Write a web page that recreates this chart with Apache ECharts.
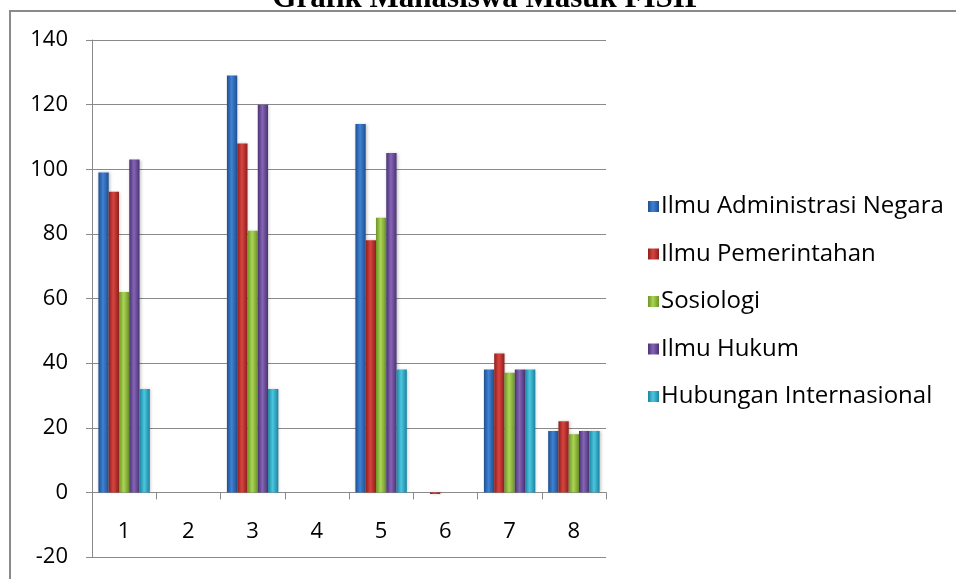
<!DOCTYPE html>
<html>
<head>
<meta charset="utf-8">
<script src="https://cdn.jsdelivr.net/npm/echarts@6/dist/echarts.min.js"></script>
<style>
  html, body { margin: 0; padding: 0; background: #fff; }
  #chart { width: 956px; height: 579px; }
</style>
</head>
<body>
<div id="chart"></div>
<script>
var categories = ['1', '2', '3', '4', '5', '6', '7', '8'];
var seriesNames = ['Ilmu Administrasi Negara', 'Ilmu Pemerintahan', 'Sosiologi', 'Ilmu Hukum', 'Hubungan Internasional'];
var adminNegara = [99, 0, 129, 0, 114, 0, 38, 19];
var pemerintahan = [93, 0, 108, 0, 78, -0.5, 43, 22];
var sosiologi = [62, 0, 81, 0, 85, 0, 37, 18];
var hukum = [103, 0, 120, 0, 105, 0, 38, 19];
var hubInter = [32, 0, 32, 0, 38, 0, 38, 19];
var yTicks = { min: -20, max: 140, step: 20 };

var chart = echarts.init(document.getElementById('chart'));

// warna batang: [tepi gelap, tengah terang]
var palette = [
  ['#1f4f8f', '#3f82d4'],
  ['#8f1e1c', '#d8443f'],
  ['#6a9427', '#acd454'],
  ['#4a3274', '#8565b5'],
  ['#1a849f', '#4cc6e0']
];

function barFill(c) {
  return new echarts.graphic.LinearGradient(0, 0, 1, 0, [
    { offset: 0, color: c[0] },
    { offset: 0.45, color: c[1] },
    { offset: 1, color: c[0] }
  ]);
}

var allData = [adminNegara, pemerintahan, sosiologi, hukum, hubInter];
var series = [];
for (var i = 0; i < seriesNames.length; i++) {
  series.push({
    name: seriesNames[i],
    type: 'bar',
    data: allData[i],
    barGap: '0%',
    barCategoryGap: '20%',
    itemStyle: {
      color: barFill(palette[i]),
      shadowColor: 'rgba(0,0,0,0.25)',
      shadowBlur: 3,
      shadowOffsetX: 1
    }
  });
}

var option = {
  animation: false,
  color: palette.map(function (c) { return c[1]; }),
  grid: { left: 92, right: 350, top: 40, bottom: 22, containLabel: false, outerBoundsMode: 'none' },
  graphic: [
    {
      type: 'rect',
      shape: { x: 10, y: 11, width: 960, height: 600 },
      style: { fill: 'none', stroke: '#8a8a8a', lineWidth: 2 },
      z: -1
    },
    {
      type: 'text',
      x: 488, y: 14,
      style: {
        text: 'Grafik Mahasiswa Masuk FISIP',
        font: 'bold 31px "Liberation Serif"',
        fill: '#000',
        textAlign: 'center',
        textVerticalAlign: 'bottom'
      }
    }
  ],
  legend: {
    orient: 'vertical',
    left: 648,
    top: 194,
    padding: 0,
    itemWidth: 11,
    itemHeight: 11,
    itemGap: 22.5,
    icon: 'rect',
    textStyle: { fontFamily: 'Open Sans', fontSize: 24, lineHeight: 25, color: '#000', padding: [0, 0, 0, -3] },
    data: seriesNames
  },
  xAxis: {
    type: 'category',
    data: categories,
    axisLine: { onZero: true, lineStyle: { color: '#8a8a8a', width: 1 } },
    axisTick: { show: true, length: 7, interval: 0, lineStyle: { color: '#8a8a8a' } },
    axisLabel: { margin: -36, fontFamily: 'Open Sans', fontSize: 22, color: '#000' },
    splitLine: { show: false }
  },
  yAxis: {
    type: 'value',
    min: yTicks.min,
    max: yTicks.max,
    interval: yTicks.step,
    axisLine: { show: true, lineStyle: { color: '#8a8a8a', width: 1 } },
    axisTick: { show: true, length: 6, lineStyle: { color: '#8a8a8a' } },
    axisLabel: { margin: 24, fontFamily: 'Open Sans', fontSize: 22, color: '#000' },
    splitLine: { show: true, lineStyle: { color: '#8a8a8a', width: 1 } }
  },
  series: series
};

chart.setOption(option);
</script>
</body>
</html>
